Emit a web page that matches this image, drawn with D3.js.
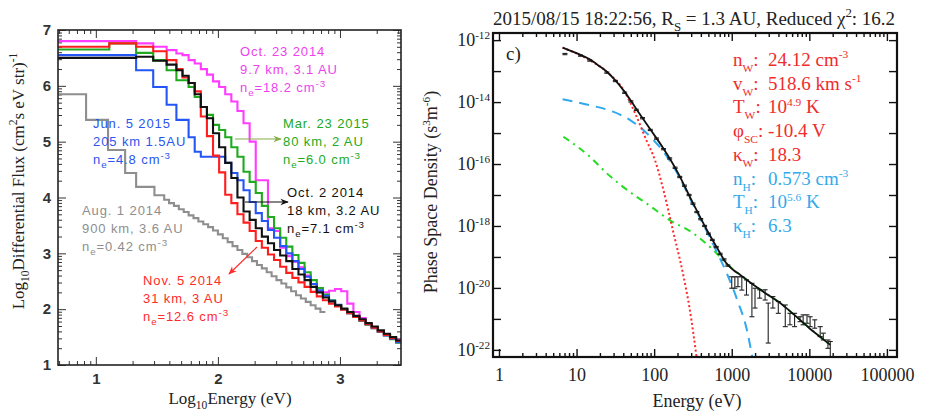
<!DOCTYPE html>
<html><head><meta charset="utf-8">
<script src="https://cdn.jsdelivr.net/npm/d3@7"></script>
<style>body{margin:0;background:#fff}</style>
</head><body>
<svg id="c" width="927" height="416"></svg>
<script>
// ================= LEFT PANEL DATA (log10 energy bin edges, log10 flux) =================
const binEdges = [0.69,1.11,1.33,1.47,1.58,1.66,1.71,1.76,1.81,1.86,1.91,1.96,2.01,2.06,2.11,2.16,2.21,2.26,2.31,2.36,2.41,2.46,2.51,2.56,2.61,2.66,2.71,2.76,2.81,2.86,2.91,2.96,3.01,3.06,3.11,3.16,3.21,3.26,3.31,3.36,3.41,3.46,3.5];
const fluxOct23 = [6.80,6.80,6.76,6.70,6.64,6.58,6.55,6.46,6.40,6.30,6.20,6.08,5.98,5.85,5.72,5.55,5.33,5.00,4.31,4.31,3.45,3.40,3.10,2.95,2.85,2.75,2.60,2.45,2.33,2.30,2.33,2.36,2.32,2.10,1.95,1.84,1.74,1.66,1.60,1.54,1.49,1.45];
const fluxMar23 = [6.65,6.76,6.59,6.46,6.28,6.10,6.10,5.98,5.80,5.62,5.48,5.30,5.21,5.08,4.90,4.73,4.46,4.28,4.08,3.85,3.65,3.45,3.28,3.12,2.97,2.83,2.66,2.52,2.38,2.26,2.16,2.07,2.00,1.93,1.86,1.79,1.72,1.66,1.59,1.53,1.46,1.40];
const fluxJun5  = [6.55,6.55,6.28,5.98,5.66,5.39,5.39,5.08,4.82,4.73,4.73,4.73,4.73,4.62,4.44,4.31,4.13,3.92,3.72,3.58,3.42,3.28,3.13,3.00,2.86,2.72,2.58,2.45,2.34,2.24,2.15,2.08,2.00,1.93,1.86,1.80,1.73,1.67,1.60,1.53,1.47,1.41];
const fluxNov5  = [6.70,6.76,6.70,6.62,6.46,6.30,6.15,6.05,5.90,5.45,5.10,4.75,4.45,4.05,3.90,3.70,3.55,3.40,3.22,3.10,2.98,2.88,2.76,2.65,2.56,2.48,2.40,2.31,2.23,2.16,2.10,2.05,1.99,1.93,1.86,1.80,1.73,1.67,1.60,1.54,1.48,1.43];
const fluxOct2  = [6.50,6.50,6.52,6.45,6.38,6.28,6.18,6.05,5.85,5.62,5.42,5.15,4.90,4.62,4.35,4.00,3.75,3.60,3.45,3.30,3.18,3.06,2.96,2.86,2.72,2.62,2.52,2.40,2.30,2.21,2.14,2.07,2.01,1.95,1.88,1.82,1.75,1.69,1.62,1.56,1.50,1.44];
const grayEdges = [0.69,0.92,1.10,1.24,1.33,1.48,1.56,1.60,1.64,1.68,1.72,1.76,1.80,1.84,1.88,1.92,1.96,2.00,2.04,2.08,2.12,2.16,2.20,2.24,2.28,2.32,2.36,2.40,2.44,2.48,2.52,2.56,2.60,2.64,2.68,2.72,2.76,2.80,2.84,2.88];
const fluxAug1  = [5.85,5.39,4.85,4.44,4.19,4.04,3.96,3.90,3.85,3.79,3.74,3.68,3.63,3.57,3.52,3.47,3.41,3.34,3.27,3.20,3.13,3.06,2.99,2.93,2.86,2.79,2.73,2.66,2.59,2.52,2.46,2.39,2.32,2.25,2.19,2.13,2.07,2.01,1.95];
const leftYTicks = [1,2,3,4,5,6,7];
const leftXTicks = [1,2,3];

// ================= RIGHT PANEL DATA (log10 energy eV, log10 PSD s^3 m^-6) =================
const fitLogE   = [0.82,1.0,1.17,1.3,1.39,1.5,1.62,1.77,1.95,2.12,2.31,2.48,2.68,2.81,2.93,3.02,3.11,3.2,3.32,3.5,3.62,3.75,3.88,4.0,4.14,4.27];
const fitLogF   = [-12.24,-12.42,-12.62,-12.85,-13.02,-13.3,-13.67,-14.22,-14.88,-15.5,-16.3,-17.16,-18.13,-18.7,-19.2,-19.42,-19.58,-19.75,-19.97,-20.28,-20.48,-20.75,-21.03,-21.3,-21.58,-21.84];
const coreLogE  = [0.82,1.17,1.39,1.62,1.77,1.90,2.01,2.12,2.25,2.37,2.46,2.55];
const coreLogF  = [-12.24,-12.65,-13.02,-13.67,-14.45,-15.23,-15.87,-16.84,-18.23,-19.52,-20.71,-22.3];
const haloLogE  = [0.82,1.17,1.47,1.69,1.86,2.0,2.12,2.31,2.48,2.68,2.81,2.94,3.08,3.19,3.27];
const haloLogF  = [-13.91,-14.10,-14.31,-14.58,-14.90,-15.25,-15.6,-16.35,-17.2,-18.18,-18.85,-19.55,-20.45,-21.3,-22.3];
const strahlLogE= [0.83,1.17,1.39,1.77,1.90,2.20,2.50,2.72,2.85,2.97,3.11,3.32,3.62,3.88,4.14,4.27];
const strahlLogF= [-15.12,-15.76,-16.30,-17.05,-17.27,-17.81,-18.23,-18.68,-19.0,-19.3,-19.58,-19.97,-20.48,-21.03,-21.58,-21.84];
const dataLogE  = [0.85,1.05,1.17,1.39,1.50,1.62,1.70,1.77,1.85,1.95,2.03,2.12,2.20,2.27,2.33,2.39,2.45,2.50,2.55,2.60,2.65,2.70,2.75,2.80,2.85,2.90,2.95,3.00,3.04,3.08,3.13,3.19,3.26,3.30,3.36,3.43,3.47,3.53,3.60,3.69,3.75,3.81,3.88,3.92,3.97,4.01,4.07,4.14,4.18,4.24,4.27];
const dataHi    = [-12.43,-12.48,-12.64,-13.03,-13.30,-13.68,-13.96,-14.23,-14.50,-14.88,-15.16,-15.50,-15.80,-16.10,-16.40,-16.68,-16.98,-17.26,-17.53,-17.76,-17.98,-18.23,-18.43,-18.66,-18.88,-19.06,-19.26,-19.64,-19.64,-19.64,-19.64,-19.74,-19.85,-20.01,-20.06,-20.06,-20.49,-20.28,-20.44,-20.55,-20.82,-20.82,-20.93,-20.87,-20.87,-20.93,-21.03,-21.25,-21.46,-21.68,-21.73];
const dataLo    = [-12.47,-12.52,-12.68,-13.07,-13.34,-13.72,-14.00,-14.27,-14.54,-14.92,-15.20,-15.54,-15.84,-16.14,-16.44,-16.72,-17.02,-17.30,-17.57,-17.80,-18.02,-18.27,-18.47,-18.70,-18.92,-19.10,-19.30,-20.01,-20.01,-19.96,-20.07,-20.23,-20.93,-20.65,-20.33,-20.39,-21.78,-20.65,-20.82,-21.25,-21.19,-21.25,-21.09,-21.19,-21.14,-21.25,-21.30,-21.57,-21.68,-21.95,-22.26];
const rightXTicks = [1,10,100,1000,10000,100000];
const rightYDecades = [12,13,14,15,16,17,18,19,20,21,22];

// ================= DRAWING =================
const svg = d3.select('#c');
const defs = svg.append('defs');
const SERIF = "'Liberation Serif','Times New Roman',serif";
const SANS = "'Liberation Sans',Arial,sans-serif";

function rich(sel, parts, fs, subScale){
  subScale = subScale || 0.68;
  let shift = 0;
  parts.forEach(p=>{
    const t = typeof p==='string'? p : p[0];
    const k = typeof p==='string'? 'n' : p[1];
    const target = k==='sub'? fs*0.32 : k==='sup'? -fs*0.4 : 0;
    sel.append('tspan').attr('dy', (target-shift).toFixed(2)).attr('font-size', k==='n'? fs : fs*subScale).text(t);
    shift = target;
  });
}

// ---------- LEFT ----------
const L = {x0:58, x1:401, y0:30, y1:365};
const xL = d3.scaleLinear().domain([0.69,3.5]).range([L.x0,L.x1]);
const yL = d3.scaleLinear().domain([1,7]).range([L.y1,L.y0]);
defs.append('clipPath').attr('id','clipL').append('rect')
  .attr('x',L.x0).attr('y',L.y0).attr('width',L.x1-L.x0).attr('height',L.y1-L.y0);

const gL = svg.append('g');
const lyMinor=[]; for(let n=1;n<7;n++) for(let k=2;k<10;k++) lyMinor.push(n+Math.log10(k));
const lxMinor=[]; for(let n=0;n<4;n++) for(let k=2;k<10;k++){const v=n+Math.log10(k); if(v>0.69&&v<3.5) lxMinor.push(v);}

function styleAxis(g){ g.select('.domain').remove(); g.selectAll('line').attr('stroke','#333').attr('stroke-width',1); }
gL.append('g').attr('transform',`translate(${L.x0},0)`).call(d3.axisLeft(yL).tickValues(lyMinor).tickSize(-4).tickFormat('')).call(styleAxis);
gL.append('g').attr('transform',`translate(${L.x1},0)`).call(d3.axisRight(yL).tickValues(lyMinor).tickSize(-4).tickFormat('')).call(styleAxis);
gL.append('g').attr('transform',`translate(0,${L.y1})`).call(d3.axisBottom(xL).tickValues(lxMinor).tickSize(-4).tickFormat('')).call(styleAxis);
gL.append('g').attr('transform',`translate(0,${L.y0})`).call(d3.axisTop(xL).tickValues(lxMinor).tickSize(-4).tickFormat('')).call(styleAxis);
const ayL = gL.append('g').attr('transform',`translate(${L.x0},0)`).call(d3.axisLeft(yL).tickValues(leftYTicks).tickSize(-8).tickPadding(7).tickFormat(d3.format('d'))).call(styleAxis);
gL.append('g').attr('transform',`translate(${L.x1},0)`).call(d3.axisRight(yL).tickValues(leftYTicks).tickSize(-8).tickFormat('')).call(styleAxis);
const axL = gL.append('g').attr('transform',`translate(0,${L.y1})`).call(d3.axisBottom(xL).tickValues(leftXTicks).tickSize(-8).tickPadding(8).tickFormat(d3.format('d'))).call(styleAxis);
gL.append('g').attr('transform',`translate(0,${L.y0})`).call(d3.axisTop(xL).tickValues(leftXTicks).tickSize(-8).tickFormat('')).call(styleAxis);
[ayL,axL].forEach(a=>a.selectAll('text').attr('font-family',SANS).attr('font-size',15).attr('font-weight','bold').attr('fill','#333'));

function stepPts(edges, vals){ const pts = vals.map((v,i)=>[edges[i],v]); pts.push([edges[edges.length-1], vals[vals.length-1]]); return pts; }
const stepLine = d3.line().x(d=>xL(d[0])).y(d=>yL(d[1])).curve(d3.curveStepAfter);
const gCurves = gL.append('g').attr('clip-path','url(#clipL)');
[
  [grayEdges, fluxAug1, '#8e8e8e'],
  [binEdges, fluxOct23, '#ff3cff'],
  [binEdges, fluxMar23, '#1faa1f'],
  [binEdges, fluxJun5, '#2456f5'],
  [binEdges, fluxNov5, '#ff1e1e'],
  [binEdges, fluxOct2, '#111111']
].forEach(([e,v,c])=>{
  gCurves.append('path').attr('d', stepLine(stepPts(e,v))).attr('fill','none').attr('stroke',c).attr('stroke-width',2.1);
});

gL.append('rect').attr('x',L.x0).attr('y',L.y0).attr('width',L.x1-L.x0).attr('height',L.y1-L.y0)
  .attr('fill','none').attr('stroke','#222').attr('stroke-width',1.6);

// arrows
function marker(id,color){
  defs.append('marker').attr('id',id).attr('viewBox','0 0 10 10').attr('refX',9).attr('refY',5)
    .attr('markerWidth',7).attr('markerHeight',7).attr('orient','auto')
    .append('path').attr('d','M0,1 L10,5 L0,9 L3,5 Z').attr('fill',color);
}
marker('mG','#86ac48'); marker('mK','#111'); marker('mR','#ff2a2a');
gL.append('line').attr('x1',235).attr('y1',139).attr('x2',281).attr('y2',139).attr('stroke','#86ac48').attr('stroke-width',1.2).attr('marker-end','url(#mG)');
gL.append('line').attr('x1',245).attr('y1',202).attr('x2',288).attr('y2',202).attr('stroke','#111').attr('stroke-width',1.2).attr('marker-end','url(#mK)');
gL.append('line').attr('x1',257).attr('y1',247).attr('x2',229).attr('y2',274).attr('stroke','#ff2a2a').attr('stroke-width',1.2).attr('marker-end','url(#mR)');

// annotations
function leftNote(x,y,lines,color){
  lines.forEach((parts,i)=>{
    const t = gL.append('text').attr('x',x).attr('y',y+i*18).attr('fill',color)
      .attr('font-family',SANS).attr('font-size',13).attr('letter-spacing',0.9);
    rich(t, parts, 13, 0.75);
  });
}
leftNote(240,56,[['Oct. 23 2014'],['9.7 km, 3.1 AU'],['n',['e','sub'],'=18.2 cm',['-3','sup']]],'#ee3fee');
leftNote(93,128,[['Jun. 5 2015'],['205 km 1.5AU'],['n',['e','sub'],'=4.8 cm',['-3','sup']]],'#2a55ee');
leftNote(283,128,[['Mar. 23 2015'],['80 km, 2 AU'],['n',['e','sub'],'=6.0 cm',['-3','sup']]],'#22aa22');
leftNote(287,197,[['Oct. 2 2014'],['18 km, 3.2 AU'],['n',['e','sub'],'=7.1 cm',['-3','sup']]],'#111');
leftNote(82,215,[['Aug. 1 2014'],['900 km, 3.6 AU'],['n',['e','sub'],'=0.42 cm',['-3','sup']]],'#8e8e8e');
leftNote(143,285,[['Nov. 5 2014'],['31 km, 3 AU'],['n',['e','sub'],'=12.6 cm',['-3','sup']]],'#ff2a2a');

// axis titles
const ylabL = gL.append('text').attr('transform','translate(24,181) rotate(-90)').attr('text-anchor','middle')
  .attr('font-family',SERIF).attr('font-size',17).attr('fill','#222');
rich(ylabL, ['Log',['10','sub'],'Differential Flux (cm',['2','sup'],'s eV str)',['-1','sup']], 17);
const xlabL = gL.append('text').attr('x',230).attr('y',404).attr('text-anchor','middle')
  .attr('font-family',SERIF).attr('font-size',17).attr('fill','#222');
rich(xlabL, ['Log',['10','sub'],'Energy  (eV)'], 17);

// ---------- RIGHT ----------
const R = {x0:493, x1:897, y0:33, y1:357};
const xR = d3.scaleLog().domain([Math.pow(10,-0.077), Math.pow(10,5.13)]).range([R.x0,R.x1]);
const yR = d3.scaleLog().domain([Math.pow(10,-22.23), Math.pow(10,-11.77)]).range([R.y1,R.y0]);
defs.append('clipPath').attr('id','clipR').append('rect')
  .attr('x',R.x0).attr('y',R.y0).attr('width',R.x1-R.x0).attr('height',R.y1-R.y0);
const gR = svg.append('g');

const rxMinor=[]; for(let d=0;d<6;d++) for(let k=2;k<10;k++){const v=k*Math.pow(10,d); if(v<Math.pow(10,5.13)) rxMinor.push(v);}
const ryTicks = rightYDecades.map(n=>Math.pow(10,-n));
function styleR(g){ g.select('.domain').remove(); g.selectAll('line').attr('stroke','#111').attr('stroke-width',1.4); }
gR.append('g').attr('transform',`translate(0,${R.y1})`).call(d3.axisBottom(xR).tickValues(rxMinor).tickSize(-4).tickFormat('')).call(styleR);
gR.append('g').attr('transform',`translate(0,${R.y0})`).call(d3.axisTop(xR).tickValues(rxMinor).tickSize(-4).tickFormat('')).call(styleR);
const axR = gR.append('g').attr('transform',`translate(0,${R.y1})`).call(d3.axisBottom(xR).tickValues(rightXTicks).tickSize(-8).tickPadding(11).tickFormat(d3.format('d'))).call(styleR);
gR.append('g').attr('transform',`translate(0,${R.y0})`).call(d3.axisTop(xR).tickValues(rightXTicks).tickSize(-8).tickFormat('')).call(styleR);
gR.append('g').attr('transform',`translate(${R.x0},0)`).call(d3.axisLeft(yR).tickValues(ryTicks).tickSize(-8).tickFormat('')).call(styleR);
gR.append('g').attr('transform',`translate(${R.x1},0)`).call(d3.axisRight(yR).tickValues(ryTicks).tickSize(-8).tickFormat('')).call(styleR);
axR.selectAll('text').attr('font-family',SERIF).attr('font-size',18).attr('fill','#222');
rightYDecades.filter(n=>n%2===0).forEach(n=>{
  const t = gR.append('text').attr('x',R.x0-3).attr('y',yR(Math.pow(10,-n))+6).attr('text-anchor','end')
    .attr('font-family',SERIF).attr('font-size',18).attr('fill','#222');
  rich(t, ['10',['-'+n,'sup']], 18, 0.62);
});

const gRc = gR.append('g').attr('clip-path','url(#clipR)');
const lineR = d3.line().x(d=>xR(Math.pow(10,d[0]))).y(d=>yR(Math.pow(10,d[1]))).curve(d3.curveMonotoneX);
const zip=(a,b)=>a.map((v,i)=>[v,b[i]]);
gRc.append('path').attr('d',lineR(zip(strahlLogE,strahlLogF))).attr('fill','none').attr('stroke','#22dd22').attr('stroke-width',2).attr('stroke-dasharray','7,5,2,5');
gRc.append('path').attr('d',lineR(zip(haloLogE,haloLogF))).attr('fill','none').attr('stroke','#30a8ee').attr('stroke-width',2).attr('stroke-dasharray','10,7');
gRc.append('path').attr('d',lineR(zip(coreLogE,coreLogF))).attr('fill','none').attr('stroke','#ff2a2a').attr('stroke-width',2).attr('stroke-dasharray','2,2.5');
// data with error bars
const gD = gRc.append('g').attr('stroke','#222').attr('stroke-width',1.1);
dataLogE.forEach((e,i)=>{
  const x = xR(Math.pow(10,e)), yh = yR(Math.pow(10,dataHi[i])), yl = yR(Math.pow(10,dataLo[i]));
  gD.append('line').attr('x1',x).attr('x2',x).attr('y1',yh).attr('y2',yl);
  gD.append('line').attr('x1',x-2.5).attr('x2',x+2.5).attr('y1',yh).attr('y2',yh);
  gD.append('line').attr('x1',x-2.5).attr('x2',x+2.5).attr('y1',yl).attr('y2',yl);
});
gRc.append('path').attr('d',lineR(zip(fitLogE,fitLogF))).attr('fill','none').attr('stroke','#111').attr('stroke-width',1.8);

gR.append('rect').attr('x',R.x0).attr('y',R.y0).attr('width',R.x1-R.x0).attr('height',R.y1-R.y0)
  .attr('fill','none').attr('stroke','#111').attr('stroke-width',2.2);

// title
const title = gR.append('text').attr('x',694).attr('y',25).attr('text-anchor','middle')
  .attr('font-family',SERIF).attr('font-size',19).attr('fill','#222');
rich(title, ['2015/08/15 18:22:56, R',['S','sub'],' = 1.3 AU, Reduced \u03c7',['2','sup'],': 16.2'], 19);
gR.append('text').attr('x',506).attr('y',60).attr('font-family',SERIF).attr('font-size',19).attr('fill','#222').text('c)');

// fit parameters
const params = [
  [['n',['W','sub'],':'], ['24.12 cm',['-3','sup']], '#f02c2c'],
  [['v',['W','sub'],':'], ['518.6 km s',['-1','sup']], '#f02c2c'],
  [['T',['W','sub'],':'], ['10',['4.9','sup'],' K'], '#f02c2c'],
  [['\u03c6',['SC','sub'],':'], null, '#f02c2c'],
  [['\u03ba',['W','sub'],':'], ['18.3'], '#f02c2c'],
  [['n',['H','sub'],':'], ['0.573 cm',['-3','sup']], '#33aaea'],
  [['T',['H','sub'],':'], ['10',['5.6','sup'],' K'], '#33aaea'],
  [['\u03ba',['H','sub'],':'], ['6.3'], '#33aaea']
];
params.forEach(([lab,val,col],i)=>{
  const y = 66 + i*23.7;
  const t1 = gR.append('text').attr('x',733).attr('y',y).attr('fill',col).attr('font-family',SERIF).attr('font-size',19);
  if(val){
    rich(t1, lab, 19, 0.6);
    const t2 = gR.append('text').attr('x',768).attr('y',y).attr('fill',col).attr('font-family',SERIF).attr('font-size',19);
    rich(t2, val, 19, 0.6);
  } else {
    rich(t1, lab.concat([' -10.4 V']), 19, 0.6);
  }
});

// axis titles
const ylabR = gR.append('text').attr('transform','translate(437,192) rotate(-90)').attr('text-anchor','middle')
  .attr('font-family',SERIF).attr('font-size',18).attr('fill','#222');
rich(ylabR, ['Phase Space Density (s',['3','sup'],'m',['-6','sup'],')'], 18, 0.62);
gR.append('text').attr('x',697).attr('y',407).attr('text-anchor','middle')
  .attr('font-family',SERIF).attr('font-size',18).attr('fill','#222').text('Energy (eV)');
</script>
</body></html>
